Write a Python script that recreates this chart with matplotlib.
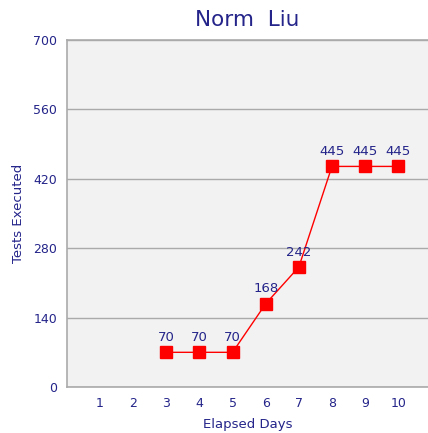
import matplotlib
matplotlib.use("Agg")
import matplotlib.pyplot as plt

days = [3, 4, 5, 6, 7, 8, 9, 10]
tests = [70, 70, 70, 168, 242, 445, 445, 445]
x_ticks = [1, 2, 3, 4, 5, 6, 7, 8, 9, 10]
y_ticks = [0, 140, 280, 420, 560, 700]

TEXT = "#24248a"
GRID = "#aaaaaa"

fig = plt.figure(figsize=[4.28, 4.33], dpi=100)
ax = fig.add_axes([0.1565, 0.1062, 0.8435, 0.8014])
ax.set_facecolor("#f2f2f2")

ax.plot(days, tests, color="red", lw=1, marker="s", markersize=9,
        markerfacecolor="red", markeredgecolor="red", zorder=3)
for d, t in zip(days, tests):
    ax.annotate(str(t), (d, t), xytext=(0, 6), textcoords="offset points",
                ha="center", va="bottom", color=TEXT, fontsize=9.5)

ax.set_xlim(0, 10.9)
ax.set_ylim(0, 700)
ax.set_xticks(x_ticks)
ax.set_yticks(y_ticks)
ax.tick_params(length=0, labelsize=9, labelcolor=TEXT, pad=7)
ax.yaxis.grid(True, color=GRID, lw=1)
ax.set_axisbelow(True)
for side in ["top", "left", "bottom"]:
    ax.spines[side].set_color(GRID)
    ax.spines[side].set_linewidth(1.2)
ax.spines["right"].set_visible(False)

ax.set_title("Norm  Liu", color=TEXT, fontsize=15.5, pad=10)
ax.set_xlabel("Elapsed Days", color=TEXT, fontsize=9.5, labelpad=6)
ax.set_ylabel("Tests Executed", color=TEXT, fontsize=9.5, labelpad=6)

plt.savefig("out.png", dpi=100)
plt.close()
